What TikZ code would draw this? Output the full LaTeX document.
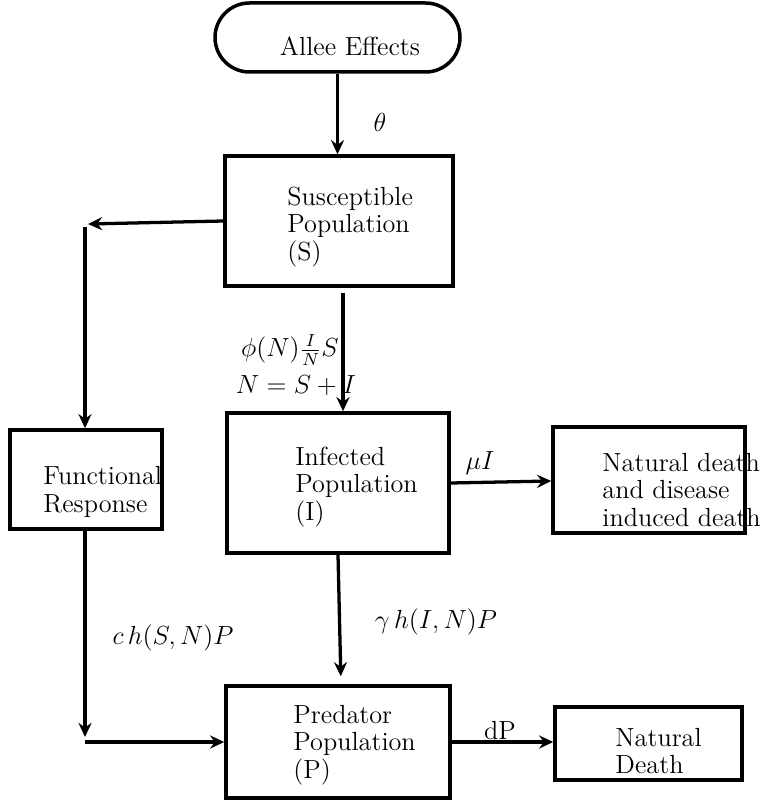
\documentclass[tikz,border=0pt]{standalone}
\usetikzlibrary{arrows.meta,fit}
\begin{document}
\begin{tikzpicture}[x=0.458pt,y=-0.458pt,
  box/.style={draw,line width=1.6pt,inner sep=0pt},
  txt/.style={font=\fontsize{12}{12.6}\selectfont,inner sep=0pt,align=left,anchor=west},
  lbl/.style={font=\fontsize{12}{12.6}\selectfont,inner sep=0pt},
  arr/.style={line width=1.5pt,-{Stealth[length=6.5pt,width=6pt,inset=2.2pt]}},
  ln/.style={line width=1.5pt}]
\useasboundingbox (0,0) rectangle (765,803);
% boxes
\node[box,rounded corners=15.8pt,fit={(215,3)(460,72)}] (A) {};
\node[box,fit={(225,156)(453,286)}] (S) {};
\node[box,fit={(10,430)(162,529)}] (F) {};
\node[box,fit={(227,413)(449,553)}] (I) {};
\node[box,fit={(553,427)(745,533)}] (D1) {};
\node[box,fit={(226,686)(450,798)}] (P) {};
\node[box,fit={(555,707)(742,780)}] (D2) {};
% texts
\node[lbl] (At) at (350,46) {Allee Effects};
\node[txt] (St) at (287,227) {Susceptible\\Population\\(S)};
\node[txt] (Ft) at (43,492) {Functional\\Response};
\node[txt] (It) at (295,487) {Infected\\Population\\(I)};
\node[txt] (D1t) at (602,490) {Natural death\\and disease\\induced death};
\node[txt] (Pt) at (293,745) {Predator\\Population\\(P)};
\node[txt] (D2t) at (615,751) {Natural\\Death};
% coordinates
\coordinate (c1) at (88,224);
\coordinate (c2) at (85,227);
\coordinate (sI) at (343,293);
\coordinate (c3) at (85,737);
\coordinate (c4) at (85,742);
% connectors
\draw[arr] (A.south) -- (A.south |- S.north);
\draw[arr] (S.west |- 0,221) -- (c1);
\draw[arr] (c2) -- (c2 |- F.north);
\draw[arr] (sI) -- (sI |- I.north);
\draw[arr] (I.east |- 0,483) -- (D1.west |- 0,481);
\draw[arr,shorten >=8*0.458pt] (I.south) -- (P.north -| 341,0);
\draw[arr] (F.south -| c3) -- (c3);
\draw[arr] (c4) -- (P.west |- c4);
\draw[arr] (P.east |- 0,742) -- (D2.west |- 0,742);
% labels
\node[lbl] (th) at (380,122) {$\theta$};
\node[lbl] (phi) at (290,350) {$\phi(N)\frac{I}{N}S$};
\node[lbl] (NSI) at (296,386) {$N=S+I$};
\node[lbl] (mu) at (480,463) {$\mu I$};
\node[lbl] (gam) at (436,622) {$\gamma\,h(I,N)P$};
\node[lbl] (ch) at (173,638) {$c\,h(S,N)P$};
\node[lbl] (dP) at (500,731) {dP};
\end{tikzpicture}
\end{document}
